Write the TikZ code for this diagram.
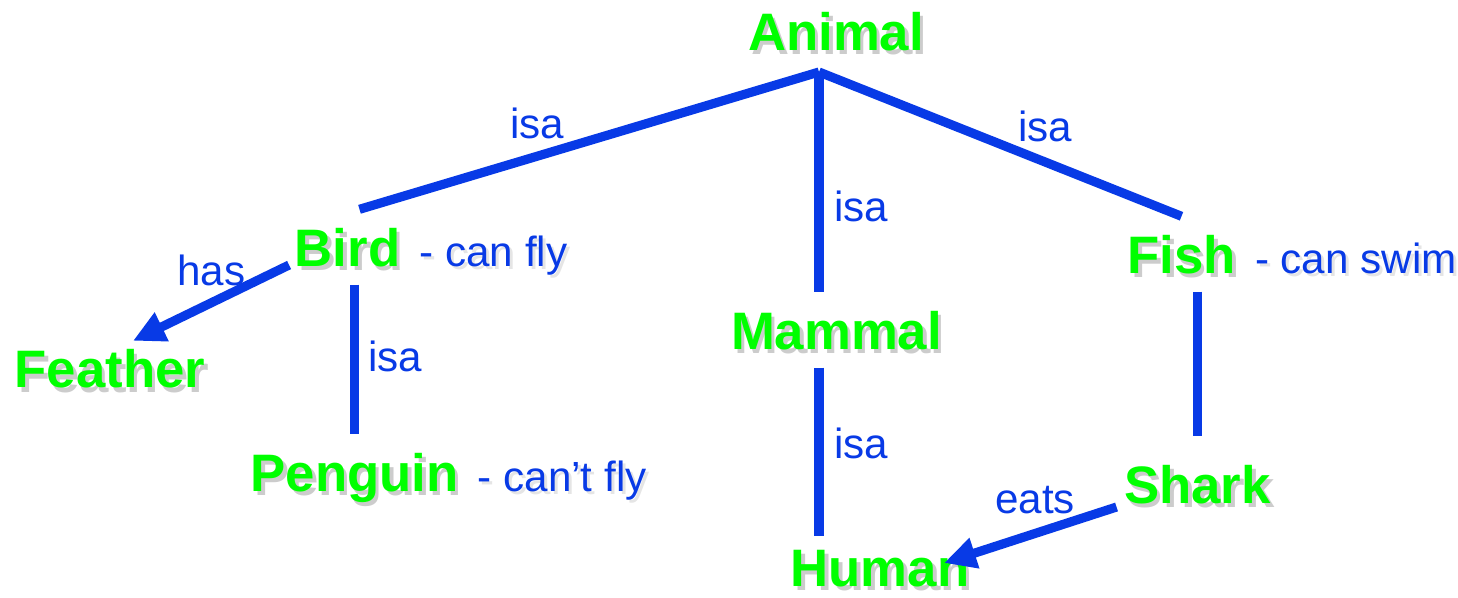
\documentclass[tikz,border=0pt]{standalone}
\usepackage{fontspec}
\setmainfont{Liberation Sans}
\usetikzlibrary{arrows.meta,positioning}

\definecolor{netblue}{RGB}{8,58,230}
\definecolor{netgreen}{RGB}{0,255,0}

% text with a soft grey drop shadow
\newcommand\txtshadow[2]{\rlap{\kern0.07em\raisebox{-0.09em}{\color{#1}#2}}#2}
\newcommand\cpt[1]{\txtshadow{black!20}{#1}}
\newcommand\nt[1]{\txtshadow{black!10}{#1}}

\tikzset{
	concept/.style={text=netgreen,font=\bfseries\fontsize{15}{18}\selectfont,inner sep=0.18cm,text height=0.38cm,text depth=0pt},
	note/.style={text=netblue,font=\fontsize{12}{14}\selectfont,inner sep=0pt},
	rel/.style={text=netblue,font=\fontsize{12}{14}\selectfont,inner sep=0pt,anchor=base},
	link/.style={draw=netblue,line width=2.6pt},
	arc/.style={link,-{Triangle[length=0.32cm,width=0.3cm]}}
}

\begin{document}
\begin{tikzpicture}
	\useasboundingbox (0,0) rectangle (14.58,-5.97);

	\node[concept] (animal) at (8.36,-0.31) {\cpt{Animal}};
	\node[concept] (bird) at (3.475,-2.47) {\cpt{Bird}};
	\node[concept] (feather) at (1.10,-3.685) {\cpt{Feather}};
	\node[concept] (penguin) at (3.545,-4.72) {\cpt{Penguin}};
	\node[concept] (mammal) at (8.365,-3.30) {\cpt{Mammal}};
	\node[concept] (human) at (8.80,-5.67) {\cpt{Human}};
	\node[concept] (fish) at (11.815,-2.54) {\cpt{Fish}};
	\node[concept] (shark) at (11.975,-4.84) {\cpt{Shark}};

	\node[note,base right=0cm of bird] (birdnote) {\nt{- can fly}};
	\node[note,base right=0cm of penguin] (penguinnote) {\nt{- can’t fly}};
	\node[note,base right=0cm of fish] (fishnote) {\nt{- can swim}};

	\coordinate (fork) at (8.19,-0.72);

	\draw[link] (fork) -- ([xshift=0.12cm]bird.north);
	\draw[link] (fork) -- (fork |- mammal.north);
	\draw[link] (fork) -- (fish.north);
	\draw[link] (bird.south -| penguin.north) -- (penguin.north);
	\draw[link] (fork |- mammal.south) -- ([yshift=-0.07cm]fork |- human.north);
	\draw[link] (fish.south -| shark.north) -- ([yshift=0.1cm]shark.north);

	\draw[arc] ([shift={(0.13,-0.18)}]bird.west) -- ([shift={(0.23,-0.10)}]feather.north); %has
	\draw[arc] ([shift={(0.11,-0.23)}]shark.west) -- ([shift={(-0.44,0.04)}]human.east); %eats

	\node[rel] (isa1) at (5.37,-1.38) {isa};
	\node[rel] (isa2) at (8.61,-2.21) {isa};
	\node[rel] (isa3) at (10.45,-1.41) {isa};
	\node[rel] (isa4) at (3.95,-3.71) {isa};
	\node[rel] (isa5) at (8.61,-4.58) {isa};
	\node[rel] (has) at (2.115,-2.85) {has};
	\node[rel] (eats) at (10.35,-5.13) {eats};
\end{tikzpicture}
\end{document}
